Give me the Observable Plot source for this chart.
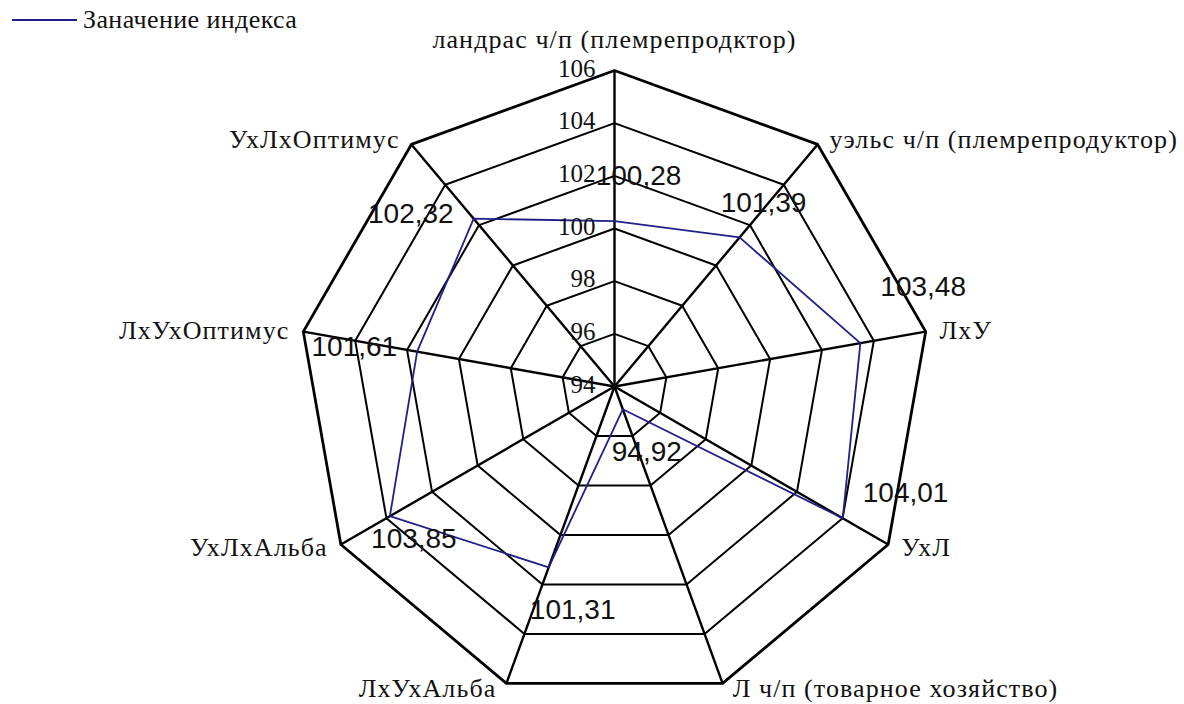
<!DOCTYPE html>
<html><head><meta charset="utf-8">
<script src="https://cdn.jsdelivr.net/npm/d3@7"></script>
<script src="https://cdn.jsdelivr.net/npm/@observablehq/plot@0.6"></script>
<style>
body{margin:0;background:#fff;}
#wrap{position:relative;width:1184px;height:704px;}
#legend{position:absolute;left:0;top:5px;display:flex;align-items:center;font-family:"Liberation Serif","Times New Roman",serif;font-size:26px;letter-spacing:0.4px;color:#111;white-space:nowrap;}
#legend .sw{display:inline-block;width:65px;height:0;border-top:2px solid #1f1f8a;margin-left:12px;margin-right:6px;}
#wrap svg g[font-size="26"] text{letter-spacing:1.1px;}
</style></head><body>
<div id="wrap"><div id="legend"><span class="sw"></span><span id="legtext"></span></div></div>
<script>
// ---- data ----
const categories = [
  "ландрас ч/п (племрепродктор)",
  "уэльс ч/п (племрепродуктор)",
  "ЛхУ",
  "УхЛ",
  "Л ч/п (товарное хозяйство)",
  "ЛхУхАльба",
  "УхЛхАльба",
  "ЛхУхОптимус",
  "УхЛхОптимус"
];
const values = [100.28, 101.39, 103.48, 104.01, 94.92, 101.31, 103.85, 101.61, 102.32];
const tickValues = [94, 96, 98, 100, 102, 104, 106];
const seriesName = "Заначение индекса";

// ---- layout ----
const W = 1184, H = 704, cx = 614, cy = 386, R = 316;
const baseVal = tickValues[0], topVal = tickValues[tickValues.length - 1];
const k = R / (topVal - baseVal);           // pixels per index unit
const n = categories.length;
const ang = i => i * 2 * Math.PI / n;
const pos = (i, r) => ({x: r * Math.sin(ang(i)), y: r * Math.cos(ang(i))});
const fmt = v => v.toFixed(2).replace(".", ",");

const series = categories.map((c, i) => ({cat: c, value: values[i], ...pos(i, values[i] - baseVal)}));
const rings = tickValues.slice(1).flatMap(t => categories.map((c, i) => ({ring: t, ...pos(i, t - baseVal)})));
const outer = rings.filter(d => d.ring === topVal);
const inner = rings.filter(d => d.ring !== topVal);
const spokes = categories.map((c, i) => pos(i, topVal - baseVal));
const tickLabels = tickValues.map(t => ({label: String(t), x: 0, y: t - baseVal}));
const catLabels = categories.map((c, i) => ({label: c, s: Math.sin(ang(i)), ...pos(i, topVal - baseVal + 6 / k)}));
// data labels: beside the point on the upper-left, otherwise pushed vertically outward from the point
const dataLabels = categories.map((c, i) => {
  const sx = Math.sin(ang(i)), cyv = Math.cos(ang(i));
  const p = pos(i, values[i] - baseVal);
  const group = sx > 0.8 ? "right" : (sx < -0.6 && cyv > 0) ? "left" : "mid";
  return {label: fmt(values[i]), group, x: p.x, y: group === "left" ? p.y : p.y + 45 * cyv / k};
});

const serif = '"Liberation Serif","Times New Roman",serif';
const sans = '"Liberation Sans",Arial,sans-serif';

document.getElementById("legtext").textContent = seriesName;

const catStyle = {x: "x", y: "y", text: "label", fontSize: 26, fontFamily: serif, fill: "#111"};
const dlStyle = {x: "x", y: "y", text: "label", fontSize: 28, fontFamily: sans, fill: "#111"};

const chart = Plot.plot({
  width: W, height: H, margin: 0,
  x: {domain: [-cx / k, (W - cx) / k], axis: null},
  y: {domain: [-(H - cy) / k, cy / k], axis: null},
  marks: [
    Plot.line(inner, {x: "x", y: "y", z: "ring", curve: "linear-closed", stroke: "#000", strokeWidth: 2}),
    Plot.line(outer, {x: "x", y: "y", curve: "linear-closed", stroke: "#000", strokeWidth: 2.8}),
    Plot.link(spokes, {x1: 0, y1: 0, x2: "x", y2: "y", stroke: "#000", strokeWidth: 2.4}),
    Plot.line(series, {x: "x", y: "y", curve: "linear-closed", stroke: "#1f1f8a", strokeWidth: 1.8}),
    Plot.text(tickLabels, {x: "x", y: "y", text: "label", textAnchor: "end", dx: -19, dy: -2, fontSize: 25, fontFamily: serif, fill: "#111"}),
    Plot.text(catLabels.filter(d => Math.abs(d.s) < 0.01), {...catStyle, textAnchor: "middle", lineAnchor: "bottom", dy: -17}),
    Plot.text(catLabels.filter(d => d.s >= 0.01), {...catStyle, textAnchor: "start", dx: 8}),
    Plot.text(catLabels.filter(d => d.s <= -0.01), {...catStyle, textAnchor: "end", dx: -8}),
    Plot.text(dataLabels.filter(d => d.group === "right"), {...dlStyle, textAnchor: "start", dx: 20, dy: -48}),
    Plot.text(dataLabels.filter(d => d.group === "left"), {...dlStyle, textAnchor: "end", dx: -20, dy: -5}),
    Plot.text(dataLabels.filter(d => d.group === "mid"), {...dlStyle, textAnchor: "middle", dx: 24, dy: 0})
  ]
});
document.getElementById("wrap").appendChild(chart);
</script>
</body></html>
